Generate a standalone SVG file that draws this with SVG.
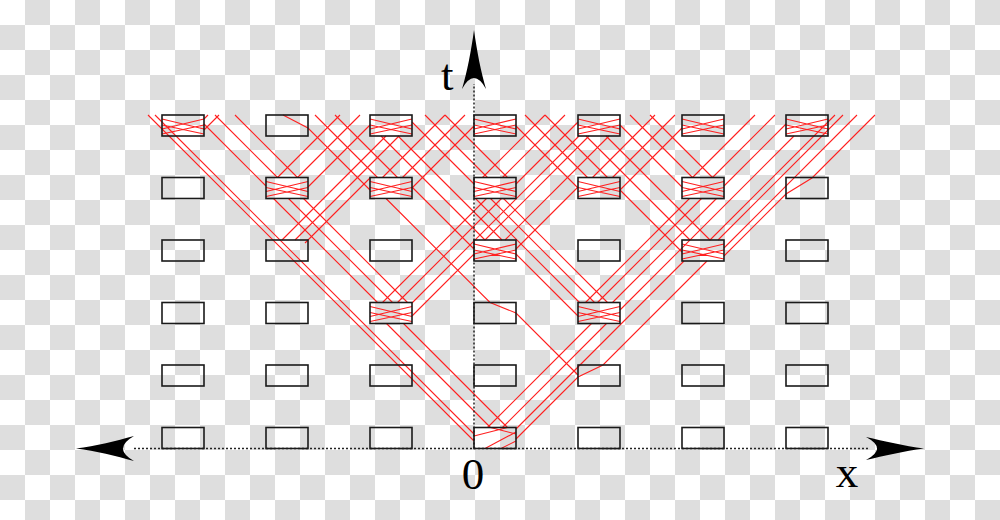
<svg xmlns="http://www.w3.org/2000/svg" xmlns:xlink="http://www.w3.org/1999/xlink" width="1000" height="520" viewBox="0 0 1000 520">
<defs>
<style>
.bx{fill:none;stroke:#1a1a1a;stroke-width:1.6}
.rl{fill:none;stroke:#ff2020;stroke-width:1.1}
.ax{fill:none;stroke:#222;stroke-width:1.5;stroke-dasharray:2 2}
.ah{fill:#000;stroke:none}
.lb{font-family:"Liberation Serif","Times New Roman",serif;font-size:45px;fill:#000}
</style>
<pattern id="ck" width="50" height="50" patternUnits="userSpaceOnUse">
<rect width="50" height="50" fill="#ffffff"/>
<rect x="25" y="0" width="25" height="25" fill="#dedede"/>
<rect x="0" y="25" width="25" height="25" fill="#dedede"/>
</pattern>
<path id="zz" class="rl" d="M0,4 L42,14 M0,14 L42,4 M0,10 L42,19 M0,19 L42,10"/>
</defs>
<rect width="1000" height="520" fill="url(#ck)"/>

<g id="connectors">
<g id="zigzags">
<use xlink:href="#zz" x="162" y="115"/>
<use xlink:href="#zz" x="370" y="115"/>
<use xlink:href="#zz" x="474" y="115"/>
<use xlink:href="#zz" x="578" y="115"/>
<use xlink:href="#zz" x="682" y="115"/>
<use xlink:href="#zz" x="786" y="115"/>
<use xlink:href="#zz" x="266" y="177.5"/>
<use xlink:href="#zz" x="370" y="177.5"/>
<use xlink:href="#zz" x="474" y="177.5"/>
<use xlink:href="#zz" x="578" y="177.5"/>
<use xlink:href="#zz" x="682" y="177.5"/>
<use xlink:href="#zz" x="474" y="240"/>
<use xlink:href="#zz" x="682" y="240"/>
<use xlink:href="#zz" x="370" y="302.5"/>
<use xlink:href="#zz" x="578" y="302.5"/>
<path class="rl" d="M485,448.5 L516,432 M501,448.5 L516,441 M490.5,427.5 L516,434 M474,436 L507.5,427.5"/>
</g>
<path class="rl" d="M474,441 L148,115 M474,434 L155,115 M490.5,427.5 L386.5,323.5 M507.5,427.5 L403.5,323.5 M487.5,427.5 L591.5,323.5 M502.5,427.5 L606.5,323.5 M516,429 L684,261 M516,439 L578,377 L603,365 L707,261"/>
<path class="rl" d="M377.5,302.5 L273.5,198.5 M392.5,302.5 L288.5,198.5 M407.5,302.5 L303.5,198.5 M382.5,302.5 L486.5,198.5 M397.5,302.5 L501.5,198.5 M412,303 L579,136 M412,316 L474,254"/>
<path class="rl" d="M578,316 L516,254 M579.5,302.5 L475.5,198.5 M594.5,302.5 L490.5,198.5 M607.5,302.5 L503.5,198.5 M585.5,302.5 L689.5,198.5 M597.5,302.5 L701.5,198.5 M612.5,302.5 L716.5,198.5 M620,310 L794,136"/>
<path class="rl" d="M474,249 L412,187 M485,240 L381,136 M502,240 L398,136 M485,240 L589,136 M505,240 L609,136 M516,249 L578,187"/>
<path class="rl" d="M474,184 L412,122 M487.5,177.5 L425,115 M507.5,177.5 L445,115 M482.5,177.5 L545,115 M502.5,177.5 L565,115 M516,184 L578,122"/>
<path class="rl" d="M370,190 L308,128 L283,115 M377.5,177.5 L315,115 M397.5,177.5 L335,115 M382.5,177.5 L445,115 M402.5,177.5 L465,115 M412,188 L474,126"/>
<path class="rl" d="M578,188 L516,126 M587.5,177.5 L525,115 M607.5,177.5 L545,115 M592.5,177.5 L655,115 M612.5,177.5 L675,115 M620,190 L682,128"/>
<path class="rl" d="M682,252 L620,190 M690,240 L586,136 M710,240 L606,136 M710,240 L835,115 M718,240 L843,115 M724,248 L857,115 M724,256 L786,194 L812,178 L875,115"/>
<path class="rl" d="M682,187 L620,125 M692.5,177.5 L630,115 M712.5,177.5 L650,115 M692.5,177.5 L755,115 M712.5,177.5 L775,115 M724,186 L786,124"/>
<path class="rl" d="M266,186 L204,124 M277.5,177.5 L215,115 M297.5,177.5 L235,115 M277.5,177.5 L340,115 M297.5,177.5 L360,115 M308,187 L370,125 M204,119 L208,115 M204,130 L219,115"/>
<path class="rl" d="M282,240 L386,136 M295,240 L399,136 M305,243 L370,178"/>
<path class="rl" d="M578,375 L516,313 L490,302.5 L386,198.5"/>
</g>

<g id="axes">
<path class="ax" d="M134,448.5 L868,448.5"/>
<path class="ax" d="M474,448.5 L474,84"/>
<path class="ah" d="M474,30 C477,52 481,72 486,89 Q474,67 462,89 C467,72 471,52 474,30 Z"/>
<path class="ah" d="M76,448.5 C96,446 116,441 134,436 Q112,448.5 134,461 C116,456 96,451 76,448.5 Z"/>
<path class="ah" d="M924,448.5 C904,446 884,441 866,437 Q888,448.5 866,460 C884,456 904,451 924,448.5 Z"/>
</g>

<g id="nodes">
<g id="b0-0"><rect class="bx" x="162" y="115" width="42" height="21"/></g>
<g id="b1-0"><rect class="bx" x="266" y="115" width="42" height="21"/></g>
<g id="b2-0"><rect class="bx" x="370" y="115" width="42" height="21"/></g>
<g id="b3-0"><rect class="bx" x="474" y="115" width="42" height="21"/></g>
<g id="b4-0"><rect class="bx" x="578" y="115" width="42" height="21"/></g>
<g id="b5-0"><rect class="bx" x="682" y="115" width="42" height="21"/></g>
<g id="b6-0"><rect class="bx" x="786" y="115" width="42" height="21"/></g>
<g id="b0-1"><rect class="bx" x="162" y="177.5" width="42" height="21"/></g>
<g id="b1-1"><rect class="bx" x="266" y="177.5" width="42" height="21"/></g>
<g id="b2-1"><rect class="bx" x="370" y="177.5" width="42" height="21"/></g>
<g id="b3-1"><rect class="bx" x="474" y="177.5" width="42" height="21"/></g>
<g id="b4-1"><rect class="bx" x="578" y="177.5" width="42" height="21"/></g>
<g id="b5-1"><rect class="bx" x="682" y="177.5" width="42" height="21"/></g>
<g id="b6-1"><rect class="bx" x="786" y="177.5" width="42" height="21"/></g>
<g id="b0-2"><rect class="bx" x="162" y="240" width="42" height="21"/></g>
<g id="b1-2"><rect class="bx" x="266" y="240" width="42" height="21"/></g>
<g id="b2-2"><rect class="bx" x="370" y="240" width="42" height="21"/></g>
<g id="b3-2"><rect class="bx" x="474" y="240" width="42" height="21"/></g>
<g id="b4-2"><rect class="bx" x="578" y="240" width="42" height="21"/></g>
<g id="b5-2"><rect class="bx" x="682" y="240" width="42" height="21"/></g>
<g id="b6-2"><rect class="bx" x="786" y="240" width="42" height="21"/></g>
<g id="b0-3"><rect class="bx" x="162" y="302.5" width="42" height="21"/></g>
<g id="b1-3"><rect class="bx" x="266" y="302.5" width="42" height="21"/></g>
<g id="b2-3"><rect class="bx" x="370" y="302.5" width="42" height="21"/></g>
<g id="b3-3"><rect class="bx" x="474" y="302.5" width="42" height="21"/></g>
<g id="b4-3"><rect class="bx" x="578" y="302.5" width="42" height="21"/></g>
<g id="b5-3"><rect class="bx" x="682" y="302.5" width="42" height="21"/></g>
<g id="b6-3"><rect class="bx" x="786" y="302.5" width="42" height="21"/></g>
<g id="b0-4"><rect class="bx" x="162" y="365" width="42" height="21"/></g>
<g id="b1-4"><rect class="bx" x="266" y="365" width="42" height="21"/></g>
<g id="b2-4"><rect class="bx" x="370" y="365" width="42" height="21"/></g>
<g id="b3-4"><rect class="bx" x="474" y="365" width="42" height="21"/></g>
<g id="b4-4"><rect class="bx" x="578" y="365" width="42" height="21"/></g>
<g id="b5-4"><rect class="bx" x="682" y="365" width="42" height="21"/></g>
<g id="b6-4"><rect class="bx" x="786" y="365" width="42" height="21"/></g>
<g id="b0-5"><rect class="bx" x="162" y="427.5" width="42" height="21"/></g>
<g id="b1-5"><rect class="bx" x="266" y="427.5" width="42" height="21"/></g>
<g id="b2-5"><rect class="bx" x="370" y="427.5" width="42" height="21"/></g>
<g id="b3-5"><rect class="bx" x="474" y="427.5" width="42" height="21"/></g>
<g id="b4-5"><rect class="bx" x="578" y="427.5" width="42" height="21"/></g>
<g id="b5-5"><rect class="bx" x="682" y="427.5" width="42" height="21"/></g>
<g id="b6-5"><rect class="bx" x="786" y="427.5" width="42" height="21"/></g>
</g>

<g id="labels">
<text class="lb" x="441" y="90">t</text>
<text class="lb" x="473" y="489" text-anchor="middle">0</text>
<text class="lb" x="847" y="487" text-anchor="middle">x</text>
</g>
</svg>
